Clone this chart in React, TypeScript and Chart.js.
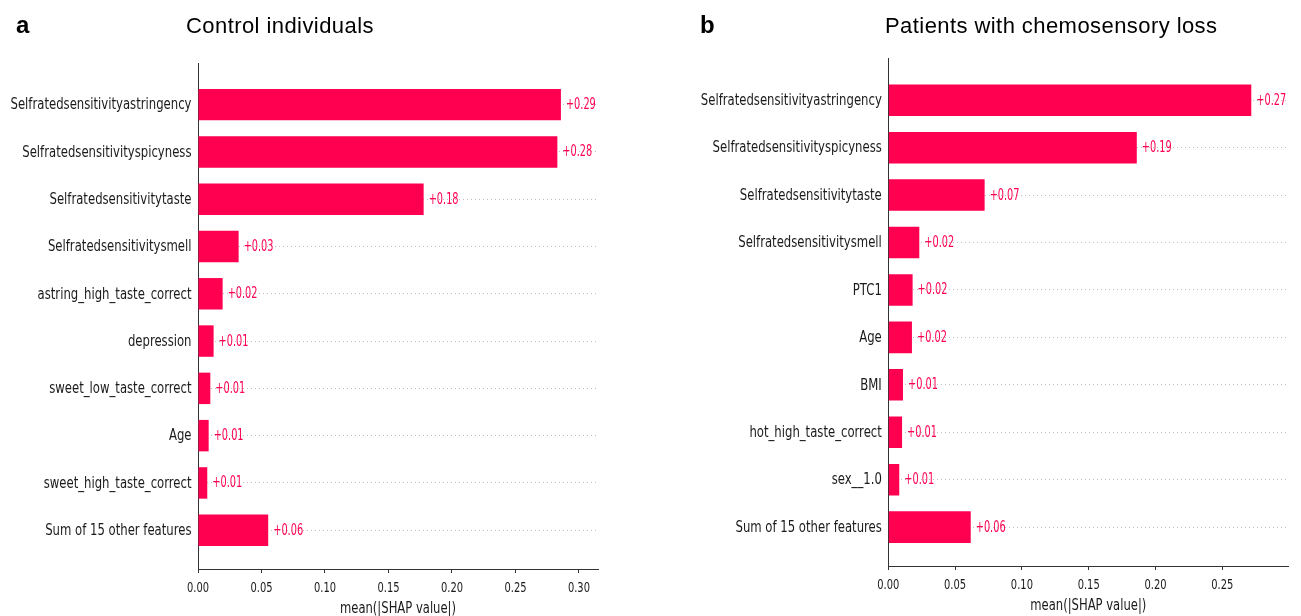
import React, { useEffect, useRef } from 'react';
import { Chart, registerables } from 'chart.js';

Chart.register(...registerables);

// ---------- data ----------
const featuresA = [
  'Selfratedsensitivityastringency',
  'Selfratedsensitivityspicyness',
  'Selfratedsensitivitytaste',
  'Selfratedsensitivitysmell',
  'astring_high_taste_correct',
  'depression',
  'sweet_low_taste_correct',
  'Age',
  'sweet_high_taste_correct',
  'Sum of 15 other features',
];
const valuesA = [0.2858, 0.283, 0.1777, 0.032, 0.0194, 0.0123, 0.0097, 0.0084, 0.0073, 0.0553];

const featuresB = [
  'Selfratedsensitivityastringency',
  'Selfratedsensitivityspicyness',
  'Selfratedsensitivitytaste',
  'Selfratedsensitivitysmell',
  'PTC1',
  'Age',
  'BMI',
  'hot_high_taste_correct',
  'sex__1.0',
  'Sum of 15 other features',
];
const valuesB = [0.2717, 0.186, 0.0721, 0.0232, 0.0182, 0.0177, 0.011, 0.0103, 0.0082, 0.0617];

const xTicksA = [0, 0.05, 0.1, 0.15, 0.2, 0.25, 0.3];
const xTicksB = [0, 0.05, 0.1, 0.15, 0.2, 0.25];

const panelLetterA = 'a';
const panelLetterB = 'b';
const titleA = 'Control individuals';
const titleB = 'Patients with chemosensory loss';
const axisTitle = 'mean(|SHAP value|)';

// ---------- styles ----------
const COND = "'DejaVu Sans Condensed', 'DejaVu Sans', sans-serif";
const SANS = "'Liberation Sans', Arial, sans-serif";
const RED = '#ff0051';
const INK = '#1a1a1a';

function scaledText(
  ctx: CanvasRenderingContext2D,
  text: string,
  x: number,
  y: number,
  opts: { size: number; k: number; align: CanvasTextAlign; baseline: CanvasTextBaseline; color: string }
) {
  ctx.save();
  ctx.translate(x, y);
  ctx.scale(opts.k, 1);
  ctx.font = `${opts.size}px ${COND}`;
  ctx.fillStyle = opts.color;
  ctx.textAlign = opts.align;
  ctx.textBaseline = opts.baseline;
  ctx.fillText(text, 0, 0);
  ctx.restore();
}

type PanelProps = {
  features: string[];
  values: number[];
  xTicks: number[];
  xMax: number;
  left: number;
  width: number;
  areaLeft: number;
  areaRight: number;
  areaTop: number;
  areaBottom: number;
};

function makeTextPlugin(features: string[], xTicks: number[]) {
  return {
    id: 'shapText',
    afterDraw(chart: any) {
      const ctx = chart.ctx as CanvasRenderingContext2D;
      const area = chart.chartArea;
      const ys = chart.scales.y;
      const xs = chart.scales.x;
      // feature labels
      features.forEach((f, i) => {
        scaledText(ctx, f, area.left - 6.5, ys.getPixelForValue(i) + 0.5, {
          size: 16.5, k: 0.786, align: 'right', baseline: 'middle', color: INK,
        });
      });
      // x tick labels
      xTicks.forEach((v) => {
        scaledText(ctx, v.toFixed(2), xs.getPixelForValue(v), area.bottom + 22.5, {
          size: 14.5, k: 0.76, align: 'center', baseline: 'alphabetic', color: INK,
        });
      });
      // axis title
      scaledText(ctx, axisTitle, (area.left + area.right) / 2, area.bottom + 44, {
        size: 16, k: 0.805, align: 'center', baseline: 'alphabetic', color: INK,
      });
      // value labels
      const meta = chart.getDatasetMeta(0);
      const ds = chart.data.datasets[0];
      meta.data.forEach((bar: any, i: number) => {
        const v = ds.data[i].x as number;
        scaledText(ctx, '+' + v.toFixed(2), bar.x + 5, bar.y + 0.5, {
          size: 15.5, k: 0.7, align: 'left', baseline: 'middle', color: RED,
        });
      });
    },
  };
}

function Panel(p: PanelProps) {
  const ref = useRef<HTMLCanvasElement | null>(null);
  useEffect(() => {
    if (!ref.current) return;
    const yWidth = p.areaLeft;
    const xHeight = 616 - p.areaBottom;
    const chart = new Chart(ref.current, {
      type: 'bar',
      data: {
        datasets: [
          {
            data: p.values.map((v, i) => ({ x: v, y: i })),
            backgroundColor: RED,
            borderWidth: 0,
            barPercentage: 0.665,
            categoryPercentage: 1,
          },
        ],
      },
      options: {
        indexAxis: 'y',
        responsive: false,
        maintainAspectRatio: false,
        animation: false,
        layout: { padding: { top: p.areaTop, right: p.width - p.areaRight, left: 0, bottom: 0 } },
        plugins: { legend: { display: false }, tooltip: { enabled: false } },
        scales: {
          y: {
            type: 'linear',
            min: -0.88,
            max: 9.82,
            reverse: true,
            offset: false,
            afterBuildTicks: (s: any) => {
              s.ticks = p.features.map((_, i) => ({ value: i }));
            },
            afterFit: (s: any) => {
              s.width = yWidth;
            },
            ticks: { display: false, autoSkip: false },
            grid: {
              offset: false,
              drawTicks: false,
              color: 'rgba(136,136,136,0.55)',
              lineWidth: 1,
            },
            border: { display: true, color: '#333333', width: 1, dash: [1, 3] },
          },
          x: {
            type: 'linear',
            min: 0,
            max: p.xMax,
            offset: false,
            afterBuildTicks: (s: any) => {
              s.ticks = p.xTicks.map((v) => ({ value: v }));
            },
            afterFit: (s: any) => {
              s.height = xHeight;
            },
            ticks: { display: false, autoSkip: false },
            grid: {
              display: true,
              offset: false,
              drawOnChartArea: false,
              drawTicks: true,
              tickLength: 4,
              color: '#333333',
            },
            border: { display: true, color: '#333333', width: 1 },
          },
        },
      },
      plugins: [makeTextPlugin(p.features, p.xTicks)],
    } as any);
    return () => chart.destroy();
  }, []);
  return (
    <canvas
      ref={ref}
      width={p.width}
      height={616}
      style={{ position: 'absolute', left: p.left, top: 0, width: p.width, height: 616, display: 'block' }}
    />
  );
}

const letterStyle: React.CSSProperties = {
  position: 'absolute',
  top: 13,
  fontFamily: SANS,
  fontWeight: 'bold',
  fontSize: 24,
  lineHeight: '24px',
  color: '#000',
  whiteSpace: 'nowrap',
};
const titleStyle: React.CSSProperties = {
  position: 'absolute',
  top: 14.7,
  fontFamily: SANS,
  fontSize: 22,
  lineHeight: '22px',
  letterSpacing: '0.43px',
  color: '#000',
  whiteSpace: 'nowrap',
};

export default function App() {
  return (
    <div style={{ position: 'absolute', left: 0, top: 0, width: 1301, height: 616, background: '#fff', overflow: 'hidden' }}>
      <Panel
        features={featuresA}
        values={valuesA}
        xTicks={xTicksA}
        xMax={0.315}
        left={0}
        width={650}
        areaLeft={198}
        areaRight={598}
        areaTop={63}
        areaBottom={569}
      />
      <Panel
        features={featuresB}
        values={valuesB}
        xTicks={xTicksB}
        xMax={0.2994}
        left={650}
        width={651}
        areaLeft={238.3}
        areaRight={638.3}
        areaTop={58.5}
        areaBottom={566}
      />
      <div style={{ ...letterStyle, left: 16 }}>{panelLetterA}</div>
      <div style={{ ...titleStyle, left: 186 }}>{titleA}</div>
      <div style={{ ...letterStyle, left: 700 }}>{panelLetterB}</div>
      <div style={{ ...titleStyle, left: 885 }}>{titleB}</div>
    </div>
  );
}
